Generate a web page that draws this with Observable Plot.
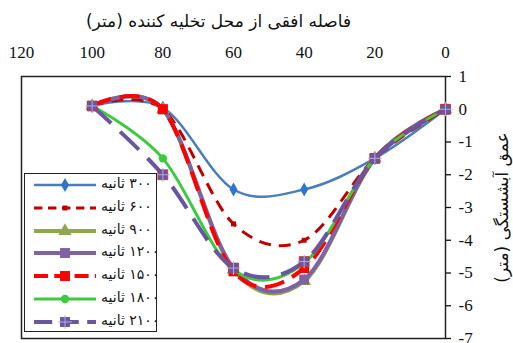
<!DOCTYPE html>
<html><head><meta charset="utf-8">
<script src="https://cdn.jsdelivr.net/npm/d3@7"></script>
<script src="https://cdn.jsdelivr.net/npm/@observablehq/plot@0.6"></script>
<style>
body{margin:0;background:#fff;}
#wrap{position:relative;width:513px;height:343px;overflow:hidden;background:#fff;}
#legend{position:absolute;left:24px;top:173px;width:131px;height:157px;border:1.5px solid #222;background:#fff;box-sizing:content-box;}
.row{position:absolute;left:0;height:20px;width:131px;}
.row svg{position:absolute;left:0;top:0;}
.row span{position:absolute;left:76px;top:0px;font:14px 'DejaVu Sans',sans-serif;color:#111;white-space:nowrap;}
</style></head><body><div id="wrap"></div>
<script>
// ---- data ----
const xValues = [100, 80, 60, 40, 20, 0];
const seriesLabels = ["۳۰۰ ثانیه", "۶۰۰ ثانیه", "۹۰۰ ثانیه", "۱۲۰۰ ثانیه", "۱۵۰۰ ثانیه", "۱۸۰۰ ثانیه", "۲۱۰۰ ثانیه"];
const s300  = [0.1, 0.05, -2.45, -2.45, -1.5, 0];
const s600  = [0.1, 0.0, -3.5, -4.0, -1.5, 0];
const s900  = [0.1, 0.0, -4.9, -5.25, -1.5, 0];
const s1200 = [0.1, 0.0, -4.85, -5.2, -1.5, 0];
const s1500 = [0.1, 0.0, -4.95, -4.85, -1.5, 0];
const s1800 = [0.1, -1.5, -4.9, -4.7, -1.5, 0];
const s2100 = [0.1, -2.0, -4.85, -4.65, -1.5, 0];
const xTicks = [120, 100, 80, 60, 40, 20, 0];
const yTicks = [1, 0, -1, -2, -3, -4, -5, -6, -7];
const titleText = "فاصله افقی از محل تخلیه کننده (متر)";
const yLabelText = "عمق آبشستگی (متر)";

// ---- styles ----
const seriesValues = [s300, s600, s900, s1200, s1500, s1800, s2100];
const styles = [
  {color:"#4A7EBB", w:2.5, dash:null, sym:"diamond", r:4.2, fill:"#2E75D0"},
  {color:"#C00000", w:3, dash:"12,8", sym:"square", r:2.8, fill:"#C00000"},
  {color:"#8FA84E", w:4, dash:null, sym:"triangle", r:5, fill:"#8FA84E"},
  {color:"#7E62A1", w:4, dash:null, sym:"square", r:5.6, fill:"#7E62A1"},
  {color:"#FF0000", w:4, dash:"20,9", sym:"square", r:5.6, fill:"#FF0000"},
  {color:"#3CCB3C", w:3, dash:null, sym:"circle", r:4.2, fill:"#3CCB3C"},
  {color:"#6A56A0", w:4, dash:"26,12", sym:"square", r:5.6, fill:"#6A56A0", plus:true}
];

const table = [];
seriesValues.forEach((vals, i) => vals.forEach((v, j) => table.push({x: xValues[j], y: v, s: i})));

const marks = [
  Plot.frame({stroke:"#222", strokeWidth:1.5}),
  Plot.axisX({anchor:"top", ticks:xTicks, tickSize:0, tickPadding:19, tickFormat:d=>String(d), label:null, fontSize:17}),
  Plot.axisY({anchor:"right", ticks:yTicks, tickSize:5, tickPadding:8, tickFormat:d=>String(d), label:null, fontSize:17, strokeWidth:1.3})
];
styles.forEach((st, i) => {
  const d = table.filter(r => r.s === i);
  marks.push(Plot.line(d, {x:"x", y:"y", curve:"cardinal", stroke:st.color, strokeWidth:st.w, strokeDasharray:st.dash || undefined, strokeLinecap:"butt"}));
  marks.push(Plot.dot(d, {x:"x", y:"y", symbol:st.sym, r:st.r, fill:st.fill, stroke:st.plus ? "#C0392B" : "none", strokeWidth:0.8}));
  if (st.plus) marks.push(Plot.dot(d, {x:"x", y:"y", symbol:"plus", r:4.5, stroke:"#B8A9DC", strokeWidth:1}));
});
marks.push(Plot.text([titleText], {frameAnchor:"top", dy:-62, dx:-15, textAnchor:"middle", fontSize:17, fontFamily:"'DejaVu Sans', sans-serif", fill:"#111"}));
marks.push(Plot.text([yLabelText], {frameAnchor:"right", dx:57, textAnchor:"middle", rotate:-90, fontSize:17, fontFamily:"'DejaVu Sans', sans-serif", fill:"#111"}));

const chart = Plot.plot({
  width:513, height:343,
  marginTop:76, marginBottom:5, marginLeft:21, marginRight:68,
  x:{domain:[120, 0]},
  y:{domain:[-7, 1]},
  style:{fontFamily:"'Liberation Serif', serif", fontSize:"17px", color:"#111", background:"white"},
  marks
});
d3.select(chart).selectAll("text").filter(function(){ return /[\u0600-\u06FF]/.test(this.textContent); }).attr("direction","rtl");
const wrap = document.getElementById("wrap");
wrap.appendChild(chart);

// ---- legend ----
const legend = document.createElement("div");
legend.id = "legend";
wrap.appendChild(legend);
styles.forEach((st, i) => {
  const row = document.createElement("div");
  row.className = "row";
  row.style.top = (1 + i * 22.8) + "px";
  legend.appendChild(row);
  const svg = d3.select(row).append("svg").attr("width", 75).attr("height", 20);
  svg.append("line").attr("x1", 9).attr("x2", 71).attr("y1", 10).attr("y2", 10)
    .attr("stroke", st.color).attr("stroke-width", st.w).attr("stroke-dasharray", st.dash ? st.dash.split(",").map(v => v * 0.7).join(",") : null);
  const area = Math.PI * st.r * st.r;
  const sym = {diamond:d3.symbolDiamond, square:d3.symbolSquare, triangle:d3.symbolTriangle, circle:d3.symbolCircle}[st.sym];
  svg.append("path").attr("d", d3.symbol(sym, area)()).attr("transform", "translate(40,10)").attr("fill", st.fill);
  if (st.plus) svg.append("path").attr("d", d3.symbol(d3.symbolPlus, Math.PI * 4.5 * 4.5)()).attr("transform", "translate(40,10)").attr("fill", "none").attr("stroke", "#B8A9DC");
  const span = document.createElement("span");
  span.dir = "rtl";
  span.textContent = seriesLabels[i];
  row.appendChild(span);
});
</script></body></html>
